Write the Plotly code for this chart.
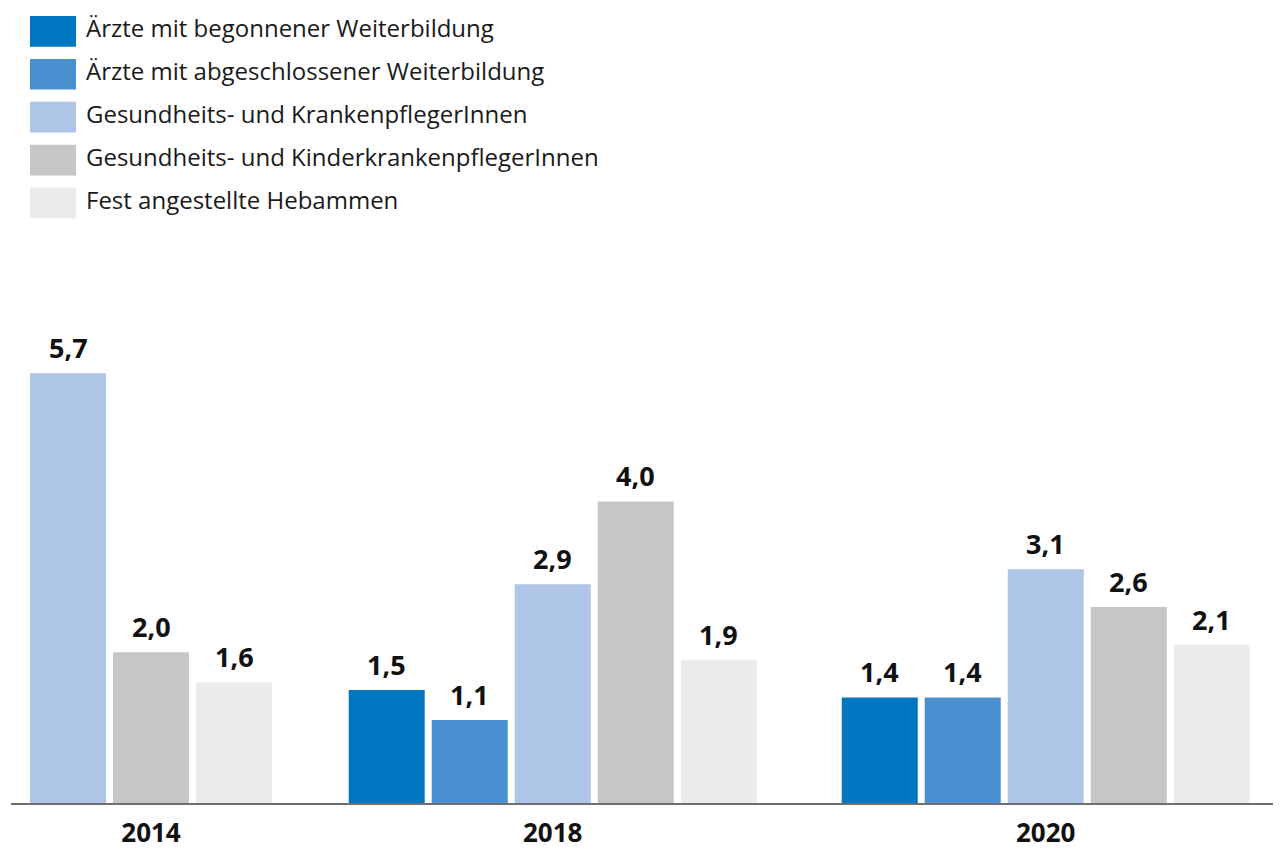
import plotly.graph_objects as go

# ---- data ----
years = ["2014", "2018", "2020"]
series_names = [
    "Ärzte mit begonnener Weiterbildung",
    "Ärzte mit abgeschlossener Weiterbildung",
    "Gesundheits- und KrankenpflegerInnen",
    "Gesundheits- und KinderkrankenpflegerInnen",
    "Fest angestellte Hebammen",
]
aerzte_begonnen = [None, 1.5, 1.4]
aerzte_abgeschlossen = [None, 1.1, 1.4]
krankenpflege = [5.7, 2.9, 3.1]
kinderkrankenpflege = [2.0, 4.0, 2.6]
hebammen = [1.6, 1.9, 2.1]
series_values = [aerzte_begonnen, aerzte_abgeschlossen, krankenpflege,
                 kinderkrankenpflege, hebammen]
colors = ["#0077C0", "#4A8FD0", "#AEC5E7", "#C6C6C6", "#EBEBEB"]

# ---- layout constants (page pixels; page body margin set to 0 below) ----
W, H = 1280, 849
ML = 11
MR = 1280 - 1273
MT = 250
MB = 849 - 803
PLOT_W = W - ML - MR
PLOT_H = H - MT - MB
PX_PER_SLOT = 83.0
BAR_WIDTH = 76.0 / 83.0
GROUP_GAPS = [0.84, 0.94]
PX_PER_UNIT = 75.4
FIRST_CENTER_PX = 68.0

# slot positions: bars packed within each group (only present series)
group_start = []
group_present = []
pos = 0.0
for g in range(len(years)):
    present = [s for s in range(len(series_values)) if series_values[s][g] is not None]
    group_present.append(present)
    group_start.append(pos)
    pos += len(present)
    if g < len(GROUP_GAPS):
        pos += GROUP_GAPS[g]

group_centers = [group_start[g] + (len(group_present[g]) - 1) / 2.0 for g in range(len(years))]

fig = go.Figure()
annotations = []
for s, (name, vals, col) in enumerate(zip(series_names, series_values, colors)):
    xs, ys = [], []
    for g, v in enumerate(vals):
        if v is None:
            continue
        xs.append(group_start[g] + group_present[g].index(s))
        ys.append(v)
    fig.add_trace(go.Bar(x=xs, y=ys, name=name, width=BAR_WIDTH,
                         marker=dict(color=col, line=dict(width=0)),
                         showlegend=False, hoverinfo="skip"))
    for x, v in zip(xs, ys):
        annotations.append(dict(
            x=x, y=v, xref="x", yref="y", text=f"{v:.1f}".replace(".", ","),
            showarrow=False, yanchor="bottom", xanchor="center", yshift=5,
            font=dict(family="Open Sans", size=27, color="#111111", weight="bold")))

# legend drawn as swatches + text
def px_x(px):
    return (px - ML) / PLOT_W

def px_y(py):
    return (H - MB - py) / PLOT_H

shapes = []
for i, (name, col) in enumerate(zip(series_names, colors)):
    top = 16 + 42.9 * i
    shapes.append(dict(type="rect", xref="paper", yref="paper",
                       x0=px_x(30), x1=px_x(76), y0=px_y(top + 30.7), y1=px_y(top),
                       fillcolor=col, line=dict(width=0), layer="above"))
    annotations.append(dict(
        x=px_x(84), y=px_y(top + 11.5), xref="paper", yref="paper", text=name,
        showarrow=False, xanchor="left", yanchor="middle",
        font=dict(family="Open Sans", size=24, color="#1a1a1a")))

x_lo = (ML - FIRST_CENTER_PX) / PX_PER_SLOT
x_hi = x_lo + PLOT_W / PX_PER_SLOT

fig.update_layout(
    width=W, height=H,
    margin=dict(l=ML, r=MR, t=MT, b=MB, autoexpand=False),
    paper_bgcolor="white", plot_bgcolor="white",
    barmode="overlay",
    showlegend=False,
    shapes=shapes,
    annotations=annotations,
    xaxis=dict(range=[x_lo, x_hi], tickvals=group_centers, ticktext=years,
               automargin=False,
               showgrid=False, zeroline=False, showline=True,
               linecolor="#6f6f6f", linewidth=2,
               ticks="outside", ticklen=6, tickcolor="rgba(0,0,0,0)",
               tickfont=dict(family="Open Sans", size=26, color="#111111", weight="bold")),
    yaxis=dict(range=[0, PLOT_H / PX_PER_UNIT], visible=False, showgrid=False,
               zeroline=False, automargin=False),
)

fig.write_html("out.html", config={"displayModeBar": False},
               post_script="document.body.style.margin='0';document.body.style.overflow='hidden';")
